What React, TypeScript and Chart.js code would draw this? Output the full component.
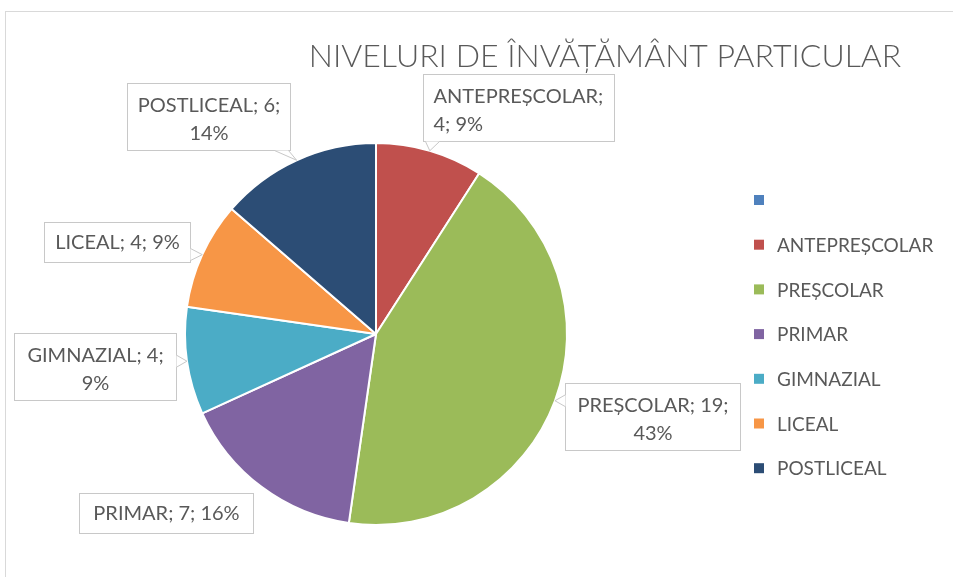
import React, { useEffect, useRef } from 'react';
import { Chart, registerables } from 'chart.js';
Chart.register(...registerables);

const TITLE = 'NIVELURI DE ÎNVĂȚĂMÂNT PARTICULAR';
const categories = ['', 'ANTEPREȘCOLAR', 'PREȘCOLAR', 'PRIMAR', 'GIMNAZIAL', 'LICEAL', 'POSTLICEAL'];
const values = [0, 4, 19, 7, 4, 4, 6];
const colors = ['#4F81BD', '#C0504D', '#9BBB59', '#8064A2', '#4BACC6', '#F79646', '#2C4D75'];

// label callout styling (offsets from the slice's outer mid point)
const labelOffsets: (number[] | null)[] = [null, [89, -43], [98, 16], [-96, 26], [-92, 5], [-85, -13], [-88, -44]];
const labelWidths = [0, 191, 175, 174, 162, 146, 163];
const labelBreaks = [0, 1, 2, 0, 2, 0, 2];
const labelAlign = ['center', 'left', 'center', 'center', 'center', 'center', 'center'];
const labelPointer = [false, true, true, false, true, true, true];

const FONT = 'Lato, "Open Sans", sans-serif';
const TEXT_COLOR = '#595959';

const decorPlugin = {
  id: 'decor',
  beforeDraw(chart: any) {
    const ctx = chart.ctx;
    ctx.save();
    ctx.fillStyle = '#ffffff';
    ctx.fillRect(0, 0, chart.width, chart.height);
    ctx.strokeStyle = '#D9D9D9';
    ctx.lineWidth = 1;
    ctx.strokeRect(5.5, 11.5, chart.width + 20, chart.height + 20);
    // title
    ctx.fillStyle = TEXT_COLOR;
    ctx.font = `300 32px ${FONT}`;
    ctx.textAlign = 'center';
    ctx.textBaseline = 'middle';
    ctx.fillText(TITLE, 605, 57);
    // legend
    ctx.font = `19px ${FONT}`;
    ctx.textAlign = 'left';
    categories.forEach((c, i) => {
      const y = 200 + i * 44.7;
      ctx.fillStyle = colors[i];
      ctx.fillRect(754, y - 5, 10, 10);
      ctx.fillStyle = TEXT_COLOR;
      ctx.fillText(c, 777, y + 1);
    });
    ctx.restore();
  },
  afterDatasetsDraw(chart: any) {
    const ctx = chart.ctx;
    const meta = chart.getDatasetMeta(0);
    const total = values.reduce((a, b) => a + b, 0);
    ctx.save();
    meta.data.forEach((arc: any, i: number) => {
      const off = labelOffsets[i];
      if (!off || values[i] === 0) return;
      const p = arc.getProps(['x', 'y', 'startAngle', 'endAngle', 'outerRadius'], true);
      const mid = (p.startAngle + p.endAngle) / 2;
      const ax = p.x + Math.cos(mid) * p.outerRadius;
      const ay = p.y + Math.sin(mid) * p.outerRadius;
      const parts = [categories[i], String(values[i]), Math.round((values[i] / total) * 100) + '%'];
      const b = labelBreaks[i];
      const lines = b === 0 ? [parts.join('; ')] : [parts.slice(0, b).join('; ') + ';', parts.slice(b).join('; ')];
      const w = labelWidths[i];
      const h = lines.length === 1 ? 40 : 67;
      const cx = ax + off[0];
      const cy = ay + off[1];
      const left = Math.round(cx - w / 2) + 0.5;
      const top = Math.round(cy - h / 2) + 0.5;
      const right = left + w;
      const bottom = top + h;
      ctx.fillStyle = '#ffffff';
      ctx.strokeStyle = '#C8C8C8';
      ctx.lineWidth = 1;
      ctx.fillRect(left, top, w, h);
      ctx.strokeRect(left, top, w, h);
      if (labelPointer[i]) {
        const px = Math.min(Math.max(ax, left), right);
        const py = Math.min(Math.max(ay, top), bottom);
        const dx = ax < left ? left - ax : ax > right ? ax - right : 0;
        const dy = ay < top ? top - ay : ay > bottom ? ay - bottom : 0;
        let b1: number[], b2: number[];
        if (dy >= dx) {
          let x1 = px - 7, x2 = px + 7;
          if (x1 < left + 2) { x1 = left + 2; x2 = x1 + 14; }
          if (x2 > right - 2) { x2 = right - 2; x1 = x2 - 14; }
          b1 = [x1, py]; b2 = [x2, py];
        } else {
          let y1 = py - 6, y2 = py + 6;
          if (y1 < top + 2) { y1 = top + 2; y2 = y1 + 12; }
          if (y2 > bottom - 2) { y2 = bottom - 2; y1 = y2 - 12; }
          b1 = [px, y1]; b2 = [px, y2];
        }
        ctx.beginPath();
        ctx.moveTo(b1[0], b1[1]);
        ctx.lineTo(ax, ay);
        ctx.lineTo(b2[0], b2[1]);
        ctx.closePath();
        ctx.fillStyle = '#ffffff';
        ctx.fill();
        ctx.beginPath();
        ctx.moveTo(b1[0], b1[1]);
        ctx.lineTo(ax, ay);
        ctx.lineTo(b2[0], b2[1]);
        ctx.stroke();
      }
      ctx.fillStyle = TEXT_COLOR;
      ctx.font = `20px ${FONT}`;
      ctx.textBaseline = 'middle';
      lines.forEach((ln, k) => {
        const y = lines.length === 1 ? top + h / 2 : top + 22 + k * 28;
        if (labelAlign[i] === 'left') {
          ctx.textAlign = 'left';
          ctx.fillText(ln, left + 10, y);
        } else {
          ctx.textAlign = 'center';
          ctx.fillText(ln, left + w / 2, y);
        }
      });
    });
    ctx.restore();
  },
};

export default function App() {
  const ref = useRef<HTMLCanvasElement | null>(null);
  useEffect(() => {
    if (!ref.current) return;
    const chart = new Chart(ref.current, {
      type: 'pie',
      data: {
        labels: categories,
        datasets: [{ data: values, backgroundColor: colors, borderColor: '#ffffff', borderWidth: 2 }],
      },
      options: {
        responsive: false,
        animation: false,
        devicePixelRatio: 1,
        layout: { padding: { top: 142, bottom: 51, left: 100, right: 301 } },
        plugins: { legend: { display: false }, tooltip: { enabled: false }, title: { display: false } },
      },
      plugins: [decorPlugin],
    } as any);
    return () => chart.destroy();
  }, []);
  return (
    <div style={{ position: 'absolute', left: 0, top: 0, width: 953, height: 577 }}>
      <canvas ref={ref} width={953} height={577} />
    </div>
  );
}
